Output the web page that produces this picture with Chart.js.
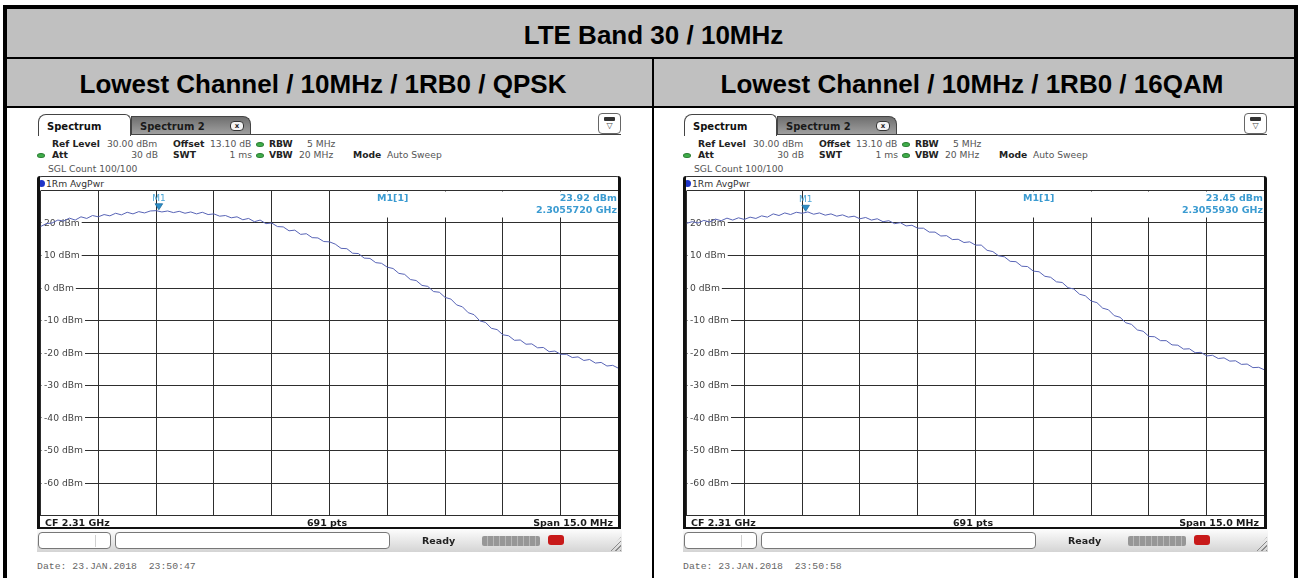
<!DOCTYPE html>
<html><head><meta charset="utf-8">
<script src="https://cdn.jsdelivr.net/npm/chart.js@4.4.1/dist/chart.umd.min.js"></script>
<style>
html,body{margin:0;padding:0;}
body{width:1301px;height:578px;overflow:hidden;background:#fff;position:relative;font-family:"DejaVu Sans",sans-serif;}
.a{position:absolute;box-sizing:border-box;}
.hd{position:absolute;display:flex;align-items:center;justify-content:center;font-family:"Liberation Sans",Arial,sans-serif;font-weight:bold;font-size:26px;color:#000;}
.t{position:absolute;white-space:pre;font-size:9.2px;color:#555;line-height:1;transform:translateY(-50%);}
.b{font-weight:bold;color:#222;}
canvas{position:absolute;}
</style></head><body>
<script>
// ---------- data ----------
const title = 'LTE Band 30 / 10MHz';
const headings = ['Lowest Channel / 10MHz / 1RB0 / QPSK', 'Lowest Channel / 10MHz / 1RB0 / 16QAM'];
const freqMHz = [2302.5,2302.65,2302.8,2302.95,2303.1,2303.25,2303.4,2303.55,2303.7,2303.85,
 2304.0,2304.15,2304.3,2304.45,2304.6,2304.75,2304.9,2305.05,2305.2,2305.35,
 2305.5,2305.65,2305.8,2305.95,2306.1,2306.25,2306.4,2306.55,2306.7,2306.85,
 2307.0,2307.15,2307.3,2307.45,2307.6,2307.75,2307.9,2308.05,2308.2,2308.35,
 2308.5,2308.65,2308.8,2308.95,2309.1,2309.25,2309.4,2309.55,2309.7,2309.85,
 2310.0,2310.15,2310.3,2310.45,2310.6,2310.75,2310.9,2311.05,2311.2,2311.35,
 2311.5,2311.65,2311.8,2311.95,2312.1,2312.25,2312.4,2312.55,2312.7,2312.85,
 2313.0,2313.15,2313.3,2313.45,2313.6,2313.75,2313.9,2314.05,2314.2,2314.35,
 2314.5,2314.65,2314.8,2314.95,2315.1,2315.25,2315.4,2315.55,2315.7,2315.85,
 2316.0,2316.15,2316.3,2316.45,2316.6,2316.75,2316.9,2317.05,2317.2,2317.35,2317.5];
const levelQPSK = [18.9,19.8,20.0,20.9,20.6,21.5,20.9,21.9,21.4,22.3,
 21.9,22.6,22.2,23.0,22.5,23.3,22.8,23.5,23.1,23.7,
 23.8,23.4,23.7,23.2,23.6,23.0,23.4,22.8,23.3,22.6,
 22.8,22.1,22.3,21.6,21.9,21.0,21.4,20.4,20.9,19.8,
 20.0,18.9,18.8,17.6,17.8,16.5,16.7,15.5,15.4,14.3,
 14.2,13.5,12.2,12.1,10.7,10.6,9.2,9.1,7.8,7.6,
 6.4,6.0,4.5,4.2,2.6,2.3,0.8,0.5,-1.1,-1.3,
 -2.9,-3.4,-5.2,-5.8,-7.6,-8.2,-10.1,-10.6,-12.4,-12.8,
 -14.4,-14.7,-16.1,-16.0,-17.3,-17.2,-18.4,-18.3,-19.6,-19.4,
 -20.4,-20.4,-21.4,-21.2,-22.3,-22.0,-23.1,-22.9,-24.0,-23.8,-24.7];
const level16QAM = [19.9,20.4,20.0,20.8,20.3,21.2,20.7,21.5,20.9,21.6,
 21.1,21.8,21.4,22.2,21.8,22.8,22.3,23.1,22.6,23.3,
 23.0,23.4,22.7,23.1,22.4,22.8,22.1,22.5,21.8,22.1,
 21.3,21.7,20.9,21.3,20.4,20.7,19.8,20.1,19.1,19.3,
 18.4,18.4,17.2,17.2,16.0,16.1,14.9,15.0,14.0,14.2,
 13.2,13.2,11.6,11.2,9.9,9.6,8.2,8.1,6.7,6.6,
 5.2,5.0,3.6,3.3,1.9,1.7,0.1,-0.3,-1.9,-2.4,
 -4.0,-4.5,-6.2,-6.7,-8.5,-9.0,-10.7,-11.2,-12.9,-13.3,
 -14.9,-15.0,-16.2,-16.2,-17.5,-17.6,-18.8,-18.7,-19.9,-19.8,
 -20.9,-20.7,-21.7,-21.5,-22.5,-22.4,-23.5,-23.4,-24.5,-24.4,-25.2];
const yLabelValues = [20,10,0,-10,-20,-30,-40,-50,-60];
const yLabelTexts = ['20 dBm','10 dBm','0 dBm','-10 dBm','-20 dBm','-30 dBm','-40 dBm','-50 dBm','-60 dBm'];
const markerFreq = [2305.572, 2305.593];
const markerLevel = [23.92, 23.45];
const markerLevelText = ['23.92 dBm', '23.45 dBm'];
const markerFreqText = ['2.3055720 GHz', '2.3055930 GHz'];
const dates = ['Date: 23.JAN.2018  23:50:47', 'Date: 23.JAN.2018  23:50:58'];
const traces = [levelQPSK, level16QAM];

// ---------- helpers ----------
const W = 1301;
function box(x,y,w,h,css){const d=document.createElement('div');d.className='a';d.style.cssText=`left:${x}px;top:${y}px;width:${w}px;height:${h}px;`+(css||'');document.body.appendChild(d);return d;}
function txt(x,y,s,o){o=o||{};const d=document.createElement('div');d.className='t'+(o.bold?' b':'');d.textContent=s;
 d.style.top=y+'px';
 if(o.right){d.style.right=(W-x)+'px';}else{d.style.left=x+'px';}
 if(o.center){d.style.transform='translate(-50%,-50%)';}
 if(o.css)d.style.cssText+=o.css;document.body.appendChild(d);return d;}
function head(x,y,w,hh,s){const d=document.createElement('div');d.className='hd';d.style.cssText=`left:${x}px;top:${y}px;width:${w}px;height:${hh}px;`;d.textContent=s;document.body.appendChild(d);}

// ---------- table ----------
box(7,9,1287,48,'background:#c0c0c0');
box(7,59,1287,47,'background:#c0c0c0');
box(3,5,1295,4,'background:#000');
box(3,5,4,573,'background:#000');
box(1294,5,4,573,'background:#000');
box(7,57,1287,2,'background:#000');
box(7,106,1287,2,'background:#000');
box(652,59,2,519,'background:#000');
head(10,11,1287,48,title);
head(0,61,646,47,headings[0]);
head(650,61,644,47,headings[1]);

// ---------- overlay plugin (labels, marker) ----------
const overlay = {
 id:'overlay',
 beforeDatasetsDraw(chart){
  const {ctx, chartArea:ca, scales:{y}} = chart;
  const k = chart.options.plugins.overlay.k;
  ctx.save();
  ctx.font = '9.2px "DejaVu Sans"';
  ctx.textBaseline = 'middle';
  yLabelValues.forEach((v,i)=>{
   const py = y.getPixelForValue(v);
   const w = ctx.measureText(yLabelTexts[i]).width;
   ctx.fillStyle = '#fff';
   ctx.fillRect(ca.left+1, py-5, w+4.5, 10);
   ctx.fillStyle = '#444';
   ctx.fillText(yLabelTexts[i], ca.left+3.5, py+0.5);
  });
  // marker info box
  ctx.fillStyle = '#fff';
  ctx.fillRect(ca.right-283, ca.top+1, 282, 26);
  ctx.fillStyle = '#3b9bd1';
  ctx.font = 'bold 9.5px "DejaVu Sans"';
  ctx.textAlign = 'left';
  ctx.fillText('M1[1]', ca.left+336.5, ca.top+8.5);
  ctx.textAlign = 'right';
  ctx.fillText(markerLevelText[k], ca.right-1.5, ca.top+8.5);
  ctx.fillText(markerFreqText[k], ca.right-1.5, ca.top+20.5);
  ctx.restore();
 },
 afterDatasetsDraw(chart){
  const {ctx, scales:{x,y}} = chart;
  const k = chart.options.plugins.overlay.k;
  const px = x.getPixelForValue(markerFreq[k]);
  const py = y.getPixelForValue(markerLevel[k]);
  ctx.save();
  ctx.beginPath();
  ctx.moveTo(px-3.8, py-6.5); ctx.lineTo(px+3.8, py-6.5); ctx.lineTo(px, py-0.5); ctx.closePath();
  ctx.fillStyle = '#2c8fc9'; ctx.fill();
  ctx.strokeStyle = '#1f6fa0'; ctx.lineWidth = 0.8; ctx.stroke();
  ctx.fillStyle = '#4aa6d6';
  ctx.font = '9px "DejaVu Sans"';
  ctx.textAlign = 'center'; ctx.textBaseline = 'middle';
  ctx.fillText('M1', px, py-12);
  ctx.restore();
 }
};

// ---------- panels ----------
[0,646].forEach((ox,k)=>{
 // tabs
 box(ox+38,114,93,22,'background:#fff;border:1px solid #444;border-bottom:none;border-radius:8px 6px 0 0;');
 txt(ox+47,126.5,'Spectrum',{bold:true,css:'font-size:10px;color:#111;'});
 box(ox+131,116,120,19,'background:linear-gradient(#6f6f6f,#a2a2a2);border:1px solid #444;border-bottom:none;border-radius:0 8px 0 0;');
 txt(ox+140,126.5,'Spectrum 2',{bold:true,css:'font-size:10px;color:#1a1a1a;'});
 const cl=box(ox+230,121,14,10,'background:#f4f4f4;border:1px solid #333;border-radius:4px;font:bold 7px "DejaVu Sans";color:#222;text-align:center;line-height:8px;');cl.textContent='x';
 box(ox+131,134,490,1,'background:#444');
 box(ox+598,113,23,21,'background:#fff;border:1px solid #666;border-radius:4px;');
 box(ox+604,117,11,4,'background:#333;border-radius:1px;');
 const tri=box(ox+603,120,13,11,'font:8px "DejaVu Sans";color:#444;text-align:center;line-height:11px;');tri.textContent='\u25BD';
 // info lines
 txt(ox+52,144,'Ref Level',{bold:true});
 txt(ox+107,144,'30.00 dBm');
 txt(ox+173,144,'Offset',{bold:true});
 txt(ox+210,144,'13.10 dB');
 box(ox+256,141.5,8,5,'background:#3fae4a;border-radius:50%;border:1px solid #2b7d33;');
 txt(ox+269,144,'RBW',{bold:true});
 txt(ox+307,144,'5 MHz');
 box(ox+37,152.5,8,5,'background:#3fae4a;border-radius:50%;border:1px solid #2b7d33;');
 txt(ox+52,155,'Att',{bold:true});
 txt(ox+158,155,'30 dB',{right:true});
 txt(ox+173,155,'SWT',{bold:true});
 txt(ox+252,155,'1 ms',{right:true});
 box(ox+256,152.5,8,5,'background:#3fae4a;border-radius:50%;border:1px solid #2b7d33;');
 txt(ox+269,155,'VBW',{bold:true});
 txt(ox+299,155,'20 MHz');
 txt(ox+353,155,'Mode',{bold:true});
 txt(ox+387,155,'Auto Sweep');
 txt(ox+48,169,'SGL Count 100/100');
 // trace header row
 box(ox+37,176,584,15,'border-top:1px solid #333;border-radius:5px 5px 0 0;');
 box(ox+38,180,7,7,'background:#1f35c8;border-radius:50%;');
 txt(ox+46,183.5,'1Rm AvgPwr',{css:'color:#333;'});
 // chart canvas
 const cv=document.createElement('canvas');
 cv.width=600;cv.height=350;cv.style.cssText=`left:${ox+30}px;top:180px;width:600px;height:350px;`;
 document.body.appendChild(cv);
 new Chart(cv.getContext('2d'),{
  type:'line',
  data:{datasets:[{data:freqMHz.map((f,i)=>({x:f,y:traces[k][i]})),borderColor:'#5864b6',borderWidth:1,pointRadius:0,tension:0,fill:false}]},
  options:{
   responsive:false,animation:false,events:[],
   layout:{padding:{left:10.5,top:10.5,right:11.5,bottom:14.5}},
   plugins:{legend:{display:false},tooltip:{enabled:false},overlay:{k:k}},
   scales:{
    x:{type:'linear',min:2302.5,max:2317.5,ticks:{display:false,stepSize:1.5},grid:{color:'#2e2e2e',lineWidth:1,drawTicks:false},border:{display:false}},
    y:{type:'linear',min:-70,max:30,ticks:{display:false,stepSize:10},grid:{color:'#2e2e2e',lineWidth:1,drawTicks:false},border:{display:false}}
   }
  },
  plugins:[overlay]
 });
 // frame (on top)
 box(ox+37,176,3,353,'background:#111;z-index:3;border-radius:3px 0 0 0;');
 box(ox+618,176,3,353,'background:#111;z-index:3;border-radius:0 3px 0 0;');
 box(ox+37,527,584,2,'background:#111;z-index:3;');
 txt(ox+45,522.5,'CF 2.31 GHz',{bold:true,css:'font-size:9.5px;color:#1a1a1a;'});
 txt(ox+327,522.5,'691 pts',{bold:true,center:true,css:'font-size:9.5px;color:#1a1a1a;'});
 txt(ox+613,522.5,'Span 15.0 MHz',{bold:true,right:true,css:'font-size:9.5px;color:#1a1a1a;'});
 // status bar
 box(ox+37,529,585,23,'background:linear-gradient(#fdfdfd,#d4d4d4);');
 box(ox+38,532,73,17,'background:#fff;border:1px solid #777;border-radius:4px;');
 box(ox+95,535,1,12,'background:#d0d0d0;');
 box(ox+115,532,275,17,'background:#fff;border:1px solid #777;border-radius:4px;');
 txt(ox+422,540.5,'Ready',{bold:true,css:'font-size:9.5px;color:#222;'});
 box(ox+482,536,58,10,'background:repeating-linear-gradient(90deg,#979797 0 5px,#b8b8b8 5px 6px);border-radius:2px;');
 box(ox+548,535,16,10,'background:#c81a1a;border-radius:3px;');
 box(ox+609,537,12,14,'background:repeating-linear-gradient(135deg,transparent 0 2px,#8a8a8a 2px 3px);clip-path:polygon(100% 0,100% 100%,0 100%);');
 // date
 txt(ox+37,567,dates[k],{css:'font-family:"Liberation Mono",monospace;font-size:9.8px;color:#666;'});
});
</script>
</body></html>
